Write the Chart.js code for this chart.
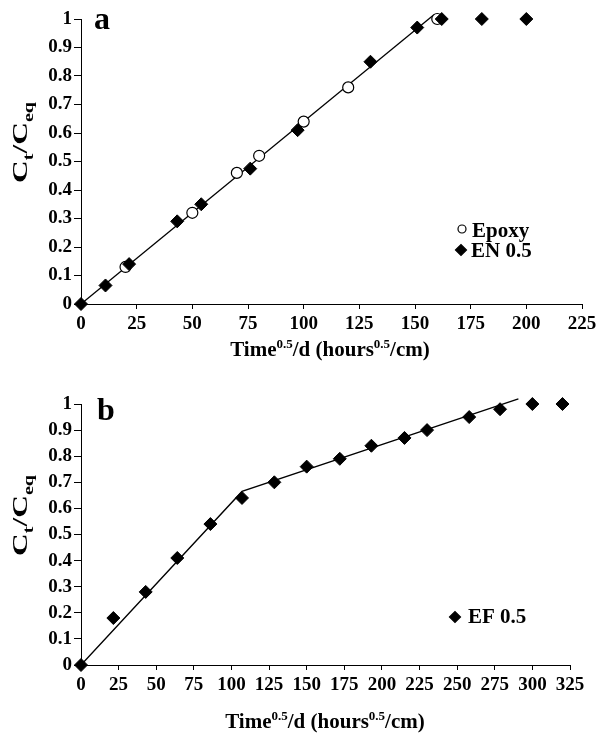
<!DOCTYPE html>
<html lang="en">
<head>
<meta charset="UTF-8">
<title>Ct/Ceq vs Time^0.5/d</title>
<script src="https://cdn.jsdelivr.net/npm/chart.js"></script>
<style>
  body { margin: 0; background: #fff; }
  #wrap { position: relative; width: 596px; height: 733px; }
  canvas { position: absolute; left: 0; }
  #chartA { top: 0; }
  #chartB { top: 366px; }
</style>
</head>
<body>
<div id="wrap">
  <canvas id="chartA" width="596" height="366"></canvas>
  <canvas id="chartB" width="596" height="367"></canvas>
</div>
<script>
// panel a
const epoxyX = [20, 50, 70, 80, 100, 120, 160];
const epoxyY = [0.13, 0.32, 0.46, 0.52, 0.64, 0.76, 1];
const en05X = [0, 11, 21.6, 43.2, 54, 76, 97.3, 130, 151, 162, 180, 200];
const en05Y = [0, 0.065, 0.14, 0.29, 0.35, 0.475, 0.61, 0.85, 0.97, 1, 1, 1];
const fitAX = [0, 158.5];
const fitAY = [0, 1.015];
const xTicksA = [0, 25, 50, 75, 100, 125, 150, 175, 200, 225];

// panel b
const ef05X = [0, 21.5, 43, 64, 86, 107, 128.5, 150, 172, 193, 215, 230, 258, 278.5, 300, 320];
const ef05Y = [0, 0.18, 0.28, 0.41, 0.54, 0.64, 0.70, 0.76, 0.79, 0.84, 0.87, 0.90, 0.95, 0.98, 1, 1];
const fitBX = [0, 107, 290.7];
const fitBY = [0, 0.665, 1.02];
const xTicksB = [0, 25, 50, 75, 100, 125, 150, 175, 200, 225, 250, 275, 300, 325];

const yTicks = [0, 0.1, 0.2, 0.3, 0.4, 0.5, 0.6, 0.7, 0.8, 0.9, 1];

const serif = '"Liberation Serif", "Times New Roman", serif';

const xTitle = [
  { t: 'Time', k: 'n' }, { t: '0.5', k: 'sup' },
  { t: '/d (hours', k: 'n' }, { t: '0.5', k: 'sup' }, { t: '/cm)', k: 'n' }
];
const yTitle = [
  { t: 'C', k: 'n' }, { t: 't', k: 'sub' }, { t: '/C', k: 'n' }, { t: 'eq', k: 'sub' }
];

function pts(xs, ys) {
  return xs.map((x, i) => ({ x: x, y: ys[i] }));
}

function partSize(p, size) {
  return p.k === 'n' ? size : Math.round(size * 0.62);
}

function richWidth(ctx, parts, size) {
  let w = 0;
  for (const p of parts) {
    ctx.font = `bold ${partSize(p, size)}px ${serif}`;
    w += ctx.measureText(p.t).width;
  }
  return w;
}

function drawRich(ctx, parts, size, x, y) {
  for (const p of parts) {
    ctx.font = `bold ${partSize(p, size)}px ${serif}`;
    let dy = 0;
    if (p.k === 'sup') dy = -size * 0.4;
    if (p.k === 'sub') dy = size * 0.25;
    ctx.fillText(p.t, x, y + dy);
    x += ctx.measureText(p.t).width;
  }
}

function marker(ctx, ds, x, y, r) {
  ctx.beginPath();
  if (ds.pointStyle === 'circle') {
    ctx.arc(x, y, r, 0, Math.PI * 2);
  } else {
    ctx.moveTo(x - r, y);
    ctx.lineTo(x, y - r);
    ctx.lineTo(x + r, y);
    ctx.lineTo(x, y + r);
    ctx.closePath();
  }
  ctx.fillStyle = ds.pointBackgroundColor;
  ctx.fill();
  ctx.lineWidth = 1.2;
  ctx.strokeStyle = '#000';
  ctx.stroke();
}

// titles, panel letter and legend
const decor = {
  id: 'decor',
  afterDraw(chart, args, o) {
    const ctx = chart.ctx;
    const a = chart.chartArea;
    ctx.save();
    ctx.fillStyle = '#000';
    ctx.textAlign = 'left';
    ctx.textBaseline = 'alphabetic';

    ctx.font = `bold 32px ${serif}`;
    ctx.fillText(o.letter, o.letterX, o.letterY);

    const w = richWidth(ctx, xTitle, 21);
    drawRich(ctx, xTitle, 21, o.xTitleX - w / 2, a.bottom + o.xTitleGap);

    for (const it of o.legend) {
      const ds = chart.data.datasets[it.ds];
      marker(ctx, ds, it.x, it.y, it.r);
      ctx.fillStyle = '#000';
      ctx.font = `bold 21px ${serif}`;
      ctx.fillText(ds.label, it.tx, it.ty);
    }

    ctx.translate(o.yTitleX, (a.top + a.bottom) / 2 + o.yTitleShift);
    ctx.rotate(-Math.PI / 2);
    const wy = richWidth(ctx, yTitle, 22);
    ctx.scale(o.yTitleLen / wy, 1);
    ctx.fillStyle = '#000';
    drawRich(ctx, yTitle, 22, -wy / 2, 0);
    ctx.restore();
  }
};

function fitLine(xs, ys) {
  return {
    label: 'fit',
    data: pts(xs, ys),
    showLine: true,
    borderColor: '#000',
    borderWidth: 1.3,
    pointRadius: 0,
    fill: false,
    clip: false,
    order: 3
  };
}

function makeOptions(xTicks, padding, decorOpts) {
  return {
    responsive: false,
    animation: false,
    events: [],
    layout: { padding: padding },
    plugins: {
      legend: { display: false },
      tooltip: { enabled: false },
      decor: decorOpts
    },
    scales: {
      x: {
        type: 'linear',
        min: xTicks[0],
        max: xTicks[xTicks.length - 1],
        afterBuildTicks: s => { s.ticks = xTicks.map(v => ({ value: v })); },
        afterFit: s => { s.height = 40; s.paddingLeft = 0; s.paddingRight = 0; },
        ticks: {
          callback: v => String(v),
          color: '#000',
          font: { family: serif, size: 19, weight: 'bold' },
          padding: 4,
          maxRotation: 0,
          autoSkip: false
        },
        grid: { drawOnChartArea: false, color: '#000', tickLength: 5 },
        border: { color: '#000', width: 1 }
      },
      y: {
        type: 'linear',
        min: 0,
        max: 1,
        afterBuildTicks: s => { s.ticks = yTicks.map(v => ({ value: v })); },
        afterFit: s => { s.width = 81; s.paddingTop = 0; s.paddingBottom = 0; },
        ticks: {
          callback: v => String(v),
          color: '#000',
          font: { family: serif, size: 19, weight: 'bold' },
          padding: 2,
          autoSkip: false
        },
        grid: { drawOnChartArea: false, color: '#000', tickLength: 7 },
        border: { color: '#000', width: 1 }
      }
    }
  };
}

new Chart(document.getElementById('chartA'), {
  type: 'scatter',
  data: {
    datasets: [
      {
        label: 'Epoxy',
        data: pts(epoxyX, epoxyY),
        pointStyle: 'circle',
        pointRadius: 5.5,
        pointBackgroundColor: '#fff',
        pointBorderColor: '#000',
        pointBorderWidth: 1.2,
        clip: false,
        order: 2
      },
      {
        label: 'EN 0.5',
        data: pts(en05X, en05Y),
        pointStyle: 'rectRot',
        pointRadius: 6.5,
        pointBackgroundColor: '#000',
        pointBorderColor: '#000',
        pointBorderWidth: 1,
        clip: false,
        order: 1
      },
      fitLine(fitAX, fitAY)
    ]
  },
  options: makeOptions(xTicksA, { top: 19, right: 14, bottom: 22, left: 0 }, {
    letter: 'a', letterX: 94, letterY: 29,
    xTitleX: 330, xTitleGap: 52,
    yTitleX: 27, yTitleShift: -19, yTitleLen: 81,
    legend: [
      { ds: 0, x: 462, y: 229, r: 4, tx: 472, ty: 237 },
      { ds: 1, x: 461, y: 250, r: 5.5, tx: 471, ty: 257 }
    ]
  }),
  plugins: [decor]
});

new Chart(document.getElementById('chartB'), {
  type: 'scatter',
  data: {
    datasets: [
      {
        label: 'EF 0.5',
        data: pts(ef05X, ef05Y),
        pointStyle: 'rectRot',
        pointRadius: 6.5,
        pointBackgroundColor: '#000',
        pointBorderColor: '#000',
        pointBorderWidth: 1,
        clip: false,
        order: 1
      },
      fitLine(fitBX, fitBY)
    ]
  },
  options: makeOptions(xTicksB, { top: 38, right: 26, bottom: 28, left: 0 }, {
    letter: 'b', letterX: 97, letterY: 54,
    xTitleX: 325, xTitleGap: 63,
    yTitleX: 27, yTitleShift: -19, yTitleLen: 81,
    legend: [
      { ds: 0, x: 455, y: 251, r: 5.5, tx: 468, ty: 257 }
    ]
  }),
  plugins: [decor]
});
</script>
</body>
</html>
